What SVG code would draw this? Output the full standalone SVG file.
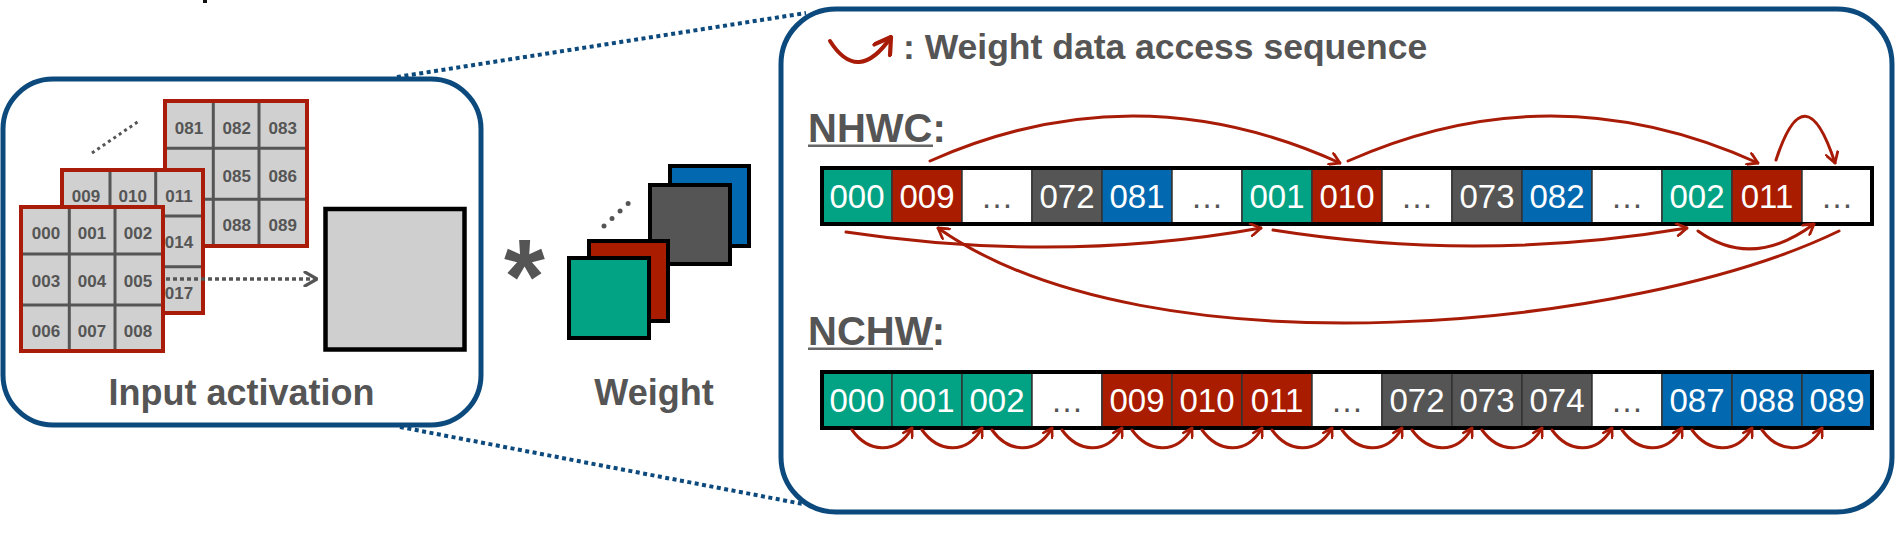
<svg xmlns="http://www.w3.org/2000/svg" width="1904" height="536" viewBox="0 0 1904 536">
<style>
.lbl{font-family:"Liberation Sans",Arial,Helvetica,sans-serif;font-weight:bold;fill:#555}
.g{font-family:"Liberation Sans",Arial,Helvetica,sans-serif;font-weight:bold;font-size:17px;fill:#555;text-anchor:middle}
.grid{fill:#d0d0d0;stroke:#a91c09;stroke-width:4}
.gl{stroke:#555;stroke-width:3}
.c{font-family:"Liberation Sans",Arial,Helvetica,sans-serif;font-size:33px;fill:#fff;text-anchor:middle}
.e{fill:#555}
.cell{stroke:#333;stroke-width:1.5}
.G{fill:#02a384}.R{fill:#a91c00}.K{fill:#555}.B{fill:#0269b1}.W{fill:#fff}
.arc{fill:none;stroke:#a81c07;stroke-width:3;stroke-linecap:round}
.zoom{fill:none;stroke:#0c4a7d;stroke-width:4;stroke-dasharray:4 3.5}
.panel{fill:none;stroke:#0c4a7d;stroke-width:5}
.wsq{stroke:#000;stroke-width:4}
</style>
<defs>
<marker id="ah" viewBox="0 0 12 12" refX="11" refY="6" markerWidth="14" markerHeight="14" markerUnits="userSpaceOnUse" orient="auto"><path d="M2.5,0.8 L11,6 L2.5,11.2" fill="none" stroke="#a81c07" stroke-width="2.4" stroke-linecap="round" stroke-linejoin="round"/></marker>
<marker id="ahs" viewBox="0 0 12 12" refX="11" refY="6" markerWidth="12" markerHeight="12" markerUnits="userSpaceOnUse" orient="auto"><path d="M2.5,0.8 L11,6 L2.5,11.2" fill="none" stroke="#a81c07" stroke-width="2.6" stroke-linecap="round" stroke-linejoin="round"/></marker>
<marker id="ahl" viewBox="0 0 12 12" refX="11" refY="6" markerWidth="22" markerHeight="22" markerUnits="userSpaceOnUse" orient="auto"><path d="M2.5,0.8 L11,6 L2.5,11.2" fill="none" stroke="#a81c07" stroke-width="2.3" stroke-linecap="round" stroke-linejoin="round"/></marker>
<marker id="ahg" viewBox="0 0 12 12" refX="11" refY="6" markerWidth="16" markerHeight="16" markerUnits="userSpaceOnUse" orient="auto"><path d="M2,0.8 L11,6 L2,11.2" fill="none" stroke="#555" stroke-width="2.4" stroke-linecap="round" stroke-linejoin="round"/></marker>
</defs>
<rect width="1904" height="536" fill="#fff"/>
<rect x="203" y="0" width="4" height="3" fill="#111"/>

<g id="input-activation">
<rect class="panel" x="3" y="79" width="478" height="346" rx="50"/>
<line x1="92" y1="153" x2="139" y2="121" stroke="#555" stroke-width="3" stroke-dasharray="3 3.5"/>
<g id="grid-back">
<rect class="grid" x="165" y="101" width="142" height="145"/>
<line class="gl" x1="213.3" y1="103" x2="213.3" y2="244"/><line class="gl" x1="259" y1="103" x2="259" y2="244"/>
<line class="gl" x1="167" y1="148.3" x2="305" y2="148.3"/><line class="gl" x1="167" y1="199.3" x2="305" y2="199.3"/>
<text class="g" x="189" y="134">081</text><text class="g" x="236.7" y="134">082</text><text class="g" x="282.7" y="134">083</text>
<text class="g" x="236.7" y="181.7">085</text><text class="g" x="282.7" y="181.7">086</text>
<text class="g" x="236.7" y="230.7">088</text><text class="g" x="282.7" y="230.7">089</text>
</g>
<g id="grid-mid">
<rect class="grid" x="62" y="170" width="141" height="143"/>
<line class="gl" x1="110" y1="172" x2="110" y2="311"/><line class="gl" x1="155.7" y1="172" x2="155.7" y2="311"/>
<line class="gl" x1="64" y1="216" x2="201" y2="216"/><line class="gl" x1="64" y1="266.7" x2="201" y2="266.7"/>
<text class="g" x="86" y="201.7">009</text><text class="g" x="132.7" y="201.7">010</text><text class="g" x="179" y="201.7">011</text>
<text class="g" x="179" y="248.3">014</text><text class="g" x="179" y="299">017</text>
</g>
<g id="grid-front">
<rect class="grid" x="21" y="207" width="142" height="144"/>
<line class="gl" x1="69.3" y1="209" x2="69.3" y2="349"/><line class="gl" x1="115" y1="209" x2="115" y2="349"/>
<line class="gl" x1="23" y1="254" x2="161" y2="254"/><line class="gl" x1="23" y1="305" x2="161" y2="305"/>
<text class="g" x="46" y="239">000</text><text class="g" x="92" y="239">001</text><text class="g" x="138" y="239">002</text>
<text class="g" x="46" y="287.3">003</text><text class="g" x="92" y="287.3">004</text><text class="g" x="138" y="287.3">005</text>
<text class="g" x="46" y="337.3">006</text><text class="g" x="92" y="337.3">007</text><text class="g" x="138" y="337.3">008</text>
</g>
<line x1="166" y1="279" x2="317" y2="279" stroke="#555" stroke-width="3.5" stroke-dasharray="4 3" marker-end="url(#ahg)"/>
<rect x="325.5" y="209" width="139" height="140.5" fill="#cfcfcf" stroke="#000" stroke-width="4.5"/>
<text class="lbl" x="241.5" y="405" font-size="36" text-anchor="middle">Input activation</text>
</g>

<g id="weight">
<text class="lbl" x="524.5" y="313" font-size="105" text-anchor="middle">*</text>
<rect class="wsq B" x="670" y="166" width="79" height="80"/>
<rect class="wsq K" x="650" y="185" width="80" height="79"/>
<line x1="604" y1="226" x2="634" y2="198" stroke="#555" stroke-width="5" stroke-linecap="round" stroke-dasharray="0 11"/>
<rect class="wsq R" x="589" y="241" width="79" height="80"/>
<rect class="wsq G" x="569" y="258" width="80" height="80"/>
<text class="lbl" x="654" y="405" font-size="36" text-anchor="middle">Weight</text>
</g>

<g id="layout-panel">
<rect class="panel" x="781" y="9" width="1111" height="503" rx="55"/>
<g id="legend">
<path d="M830,41 Q858,85 891,37" fill="none" stroke="#a81c07" stroke-width="4" stroke-linecap="round" marker-end="url(#ahl)"/>
<text class="lbl" x="903" y="59" font-size="35.5">: Weight data access sequence</text>
</g>
<g id="nhwc">
<text class="lbl" x="808" y="142" font-size="40">NHWC:</text>
<rect x="808" y="144.5" width="125" height="2.5" fill="#666"/>
<g class="cells">
<rect class="cell G" x="822" y="168" width="70" height="56"/>
<rect class="cell R" x="892" y="168" width="70" height="56"/>
<rect class="cell W" x="962" y="168" width="70" height="56"/>
<rect class="cell K" x="1032" y="168" width="70" height="56"/>
<rect class="cell B" x="1102" y="168" width="70" height="56"/>
<rect class="cell W" x="1172" y="168" width="70" height="56"/>
<rect class="cell G" x="1242" y="168" width="70" height="56"/>
<rect class="cell R" x="1312" y="168" width="70" height="56"/>
<rect class="cell W" x="1382" y="168" width="70" height="56"/>
<rect class="cell K" x="1452" y="168" width="70" height="56"/>
<rect class="cell B" x="1522" y="168" width="70" height="56"/>
<rect class="cell W" x="1592" y="168" width="70" height="56"/>
<rect class="cell G" x="1662" y="168" width="70" height="56"/>
<rect class="cell R" x="1732" y="168" width="70" height="56"/>
<rect class="cell W" x="1802" y="168" width="70" height="56"/>
<rect x="822" y="168" width="1050" height="56" fill="none" stroke="#000" stroke-width="4"/>
</g>
<text class="c" x="857" y="208">000</text><text class="c" x="927" y="208">009</text><text class="c e" x="997" y="208">…</text>
<text class="c" x="1067" y="208">072</text><text class="c" x="1137" y="208">081</text><text class="c e" x="1207" y="208">…</text>
<text class="c" x="1277" y="208">001</text><text class="c" x="1347" y="208">010</text><text class="c e" x="1417" y="208">…</text>
<text class="c" x="1487" y="208">073</text><text class="c" x="1557" y="208">082</text><text class="c e" x="1627" y="208">…</text>
<text class="c" x="1697" y="208">002</text><text class="c" x="1767" y="208">011</text><text class="c e" x="1837" y="208">…</text>
</g>
<g id="nchw">
<text class="lbl" x="808" y="345" font-size="40">NCHW:</text>
<rect x="808" y="347.5" width="125" height="2.5" fill="#666"/>
<g class="cells">
<rect class="cell G" x="822" y="372" width="70" height="56"/>
<rect class="cell G" x="892" y="372" width="70" height="56"/>
<rect class="cell G" x="962" y="372" width="70" height="56"/>
<rect class="cell W" x="1032" y="372" width="70" height="56"/>
<rect class="cell R" x="1102" y="372" width="70" height="56"/>
<rect class="cell R" x="1172" y="372" width="70" height="56"/>
<rect class="cell R" x="1242" y="372" width="70" height="56"/>
<rect class="cell W" x="1312" y="372" width="70" height="56"/>
<rect class="cell K" x="1382" y="372" width="70" height="56"/>
<rect class="cell K" x="1452" y="372" width="70" height="56"/>
<rect class="cell K" x="1522" y="372" width="70" height="56"/>
<rect class="cell W" x="1592" y="372" width="70" height="56"/>
<rect class="cell B" x="1662" y="372" width="70" height="56"/>
<rect class="cell B" x="1732" y="372" width="70" height="56"/>
<rect class="cell B" x="1802" y="372" width="70" height="56"/>
<rect x="822" y="372" width="1050" height="56" fill="none" stroke="#000" stroke-width="4"/>
</g>
<text class="c" x="857" y="412">000</text><text class="c" x="927" y="412">001</text><text class="c" x="997" y="412">002</text><text class="c e" x="1067" y="412">…</text>
<text class="c" x="1137" y="412">009</text><text class="c" x="1207" y="412">010</text><text class="c" x="1277" y="412">011</text><text class="c e" x="1347" y="412">…</text>
<text class="c" x="1417" y="412">072</text><text class="c" x="1487" y="412">073</text><text class="c" x="1557" y="412">074</text><text class="c e" x="1627" y="412">…</text>
<text class="c" x="1697" y="412">087</text><text class="c" x="1767" y="412">088</text><text class="c" x="1837" y="412">089</text>
</g>
</g>

<g id="connectors">
<line class="zoom" x1="397" y1="77" x2="806" y2="13"/>
<line class="zoom" x1="400" y1="427" x2="803" y2="504"/>
<path class="arc" d="M930,161 Q1135,70 1340,163" marker-end="url(#ah)"/>
<path class="arc" d="M1348,161 Q1553,70 1758,163" marker-end="url(#ah)"/>
<path class="arc" d="M1776,160 Q1805,71 1835,163" marker-end="url(#ah)"/>
<path class="arc" d="M846,232 Q1060,264 1261,228" marker-end="url(#ah)"/>
<path class="arc" d="M1273,230 Q1480,263 1687,228" marker-end="url(#ah)"/>
<path class="arc" d="M1698,231 Q1752,270 1814,224" marker-end="url(#ah)"/>
<path class="arc" d="M1839,231 C1640,328 1150,378 938,228" marker-end="url(#ah)"/>
<path class="arc" d="M852,430 C868,452 896,456 912,428" marker-end="url(#ahs)"/>
<path class="arc" d="M922,430 C938,452 966,456 982,428" marker-end="url(#ahs)"/>
<path class="arc" d="M992,430 C1008,452 1036,456 1052,428" marker-end="url(#ahs)"/>
<path class="arc" d="M1062,430 C1078,452 1106,456 1122,428" marker-end="url(#ahs)"/>
<path class="arc" d="M1132,430 C1148,452 1176,456 1192,428" marker-end="url(#ahs)"/>
<path class="arc" d="M1202,430 C1218,452 1246,456 1262,428" marker-end="url(#ahs)"/>
<path class="arc" d="M1272,430 C1288,452 1316,456 1332,428" marker-end="url(#ahs)"/>
<path class="arc" d="M1342,430 C1358,452 1386,456 1402,428" marker-end="url(#ahs)"/>
<path class="arc" d="M1412,430 C1428,452 1456,456 1472,428" marker-end="url(#ahs)"/>
<path class="arc" d="M1482,430 C1498,452 1526,456 1542,428" marker-end="url(#ahs)"/>
<path class="arc" d="M1552,430 C1568,452 1596,456 1612,428" marker-end="url(#ahs)"/>
<path class="arc" d="M1622,430 C1638,452 1666,456 1682,428" marker-end="url(#ahs)"/>
<path class="arc" d="M1692,430 C1708,452 1736,456 1752,428" marker-end="url(#ahs)"/>
<path class="arc" d="M1762,430 C1778,452 1806,456 1822,428" marker-end="url(#ahs)"/>
</g>
</svg>
